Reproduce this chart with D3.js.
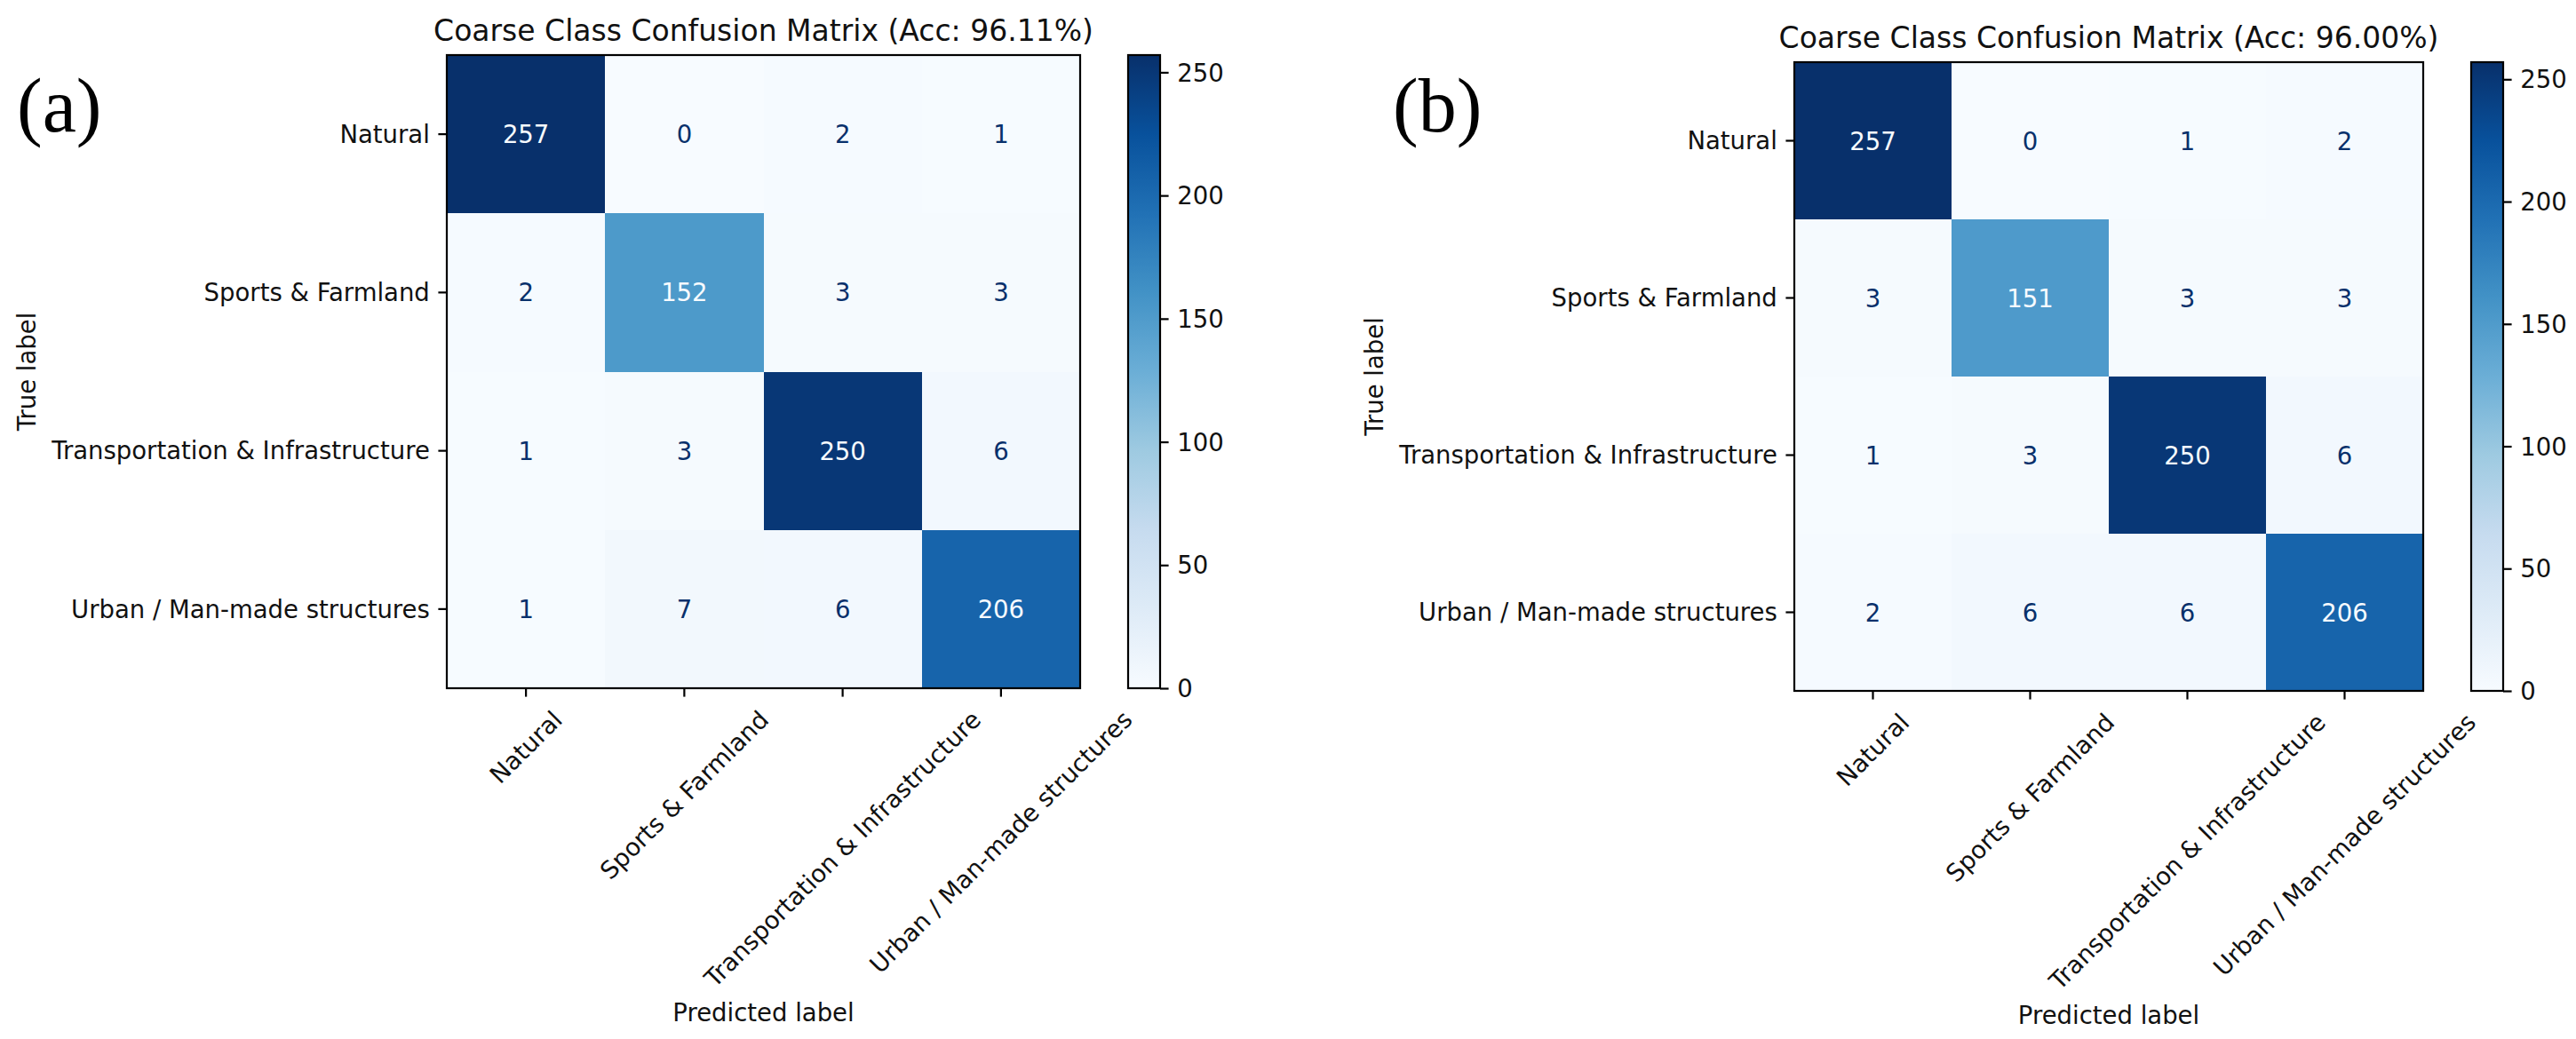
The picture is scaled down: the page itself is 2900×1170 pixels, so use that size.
<!DOCTYPE html>
<html>
<head>
<meta charset="utf-8">
<script src="https://cdn.jsdelivr.net/npm/d3@7/dist/d3.min.js"></script>
<style>
  body { margin: 0; background: #fff; }
  svg text { font-family: "DejaVu Sans", sans-serif; }
  svg text.tag { font-family: "Liberation Serif", "DejaVu Serif", serif; }
</style>
</head>
<body>
<svg id="chart" width="2900" height="1170"></svg>
<script>
// class names, shared by both panels (rows = true, columns = predicted)
var classes = ["Natural", "Sports & Farmland", "Transportation & Infrastructure", "Urban / Man-made structures"];

var matrixA = [
    [257, 0, 2, 1],
    [2, 152, 3, 3],
    [1, 3, 250, 6],
    [1, 7, 6, 206]
];
var matrixB = [
    [257, 0, 1, 2],
    [3, 151, 3, 3],
    [1, 3, 250, 6],
    [2, 6, 6, 206]
];

var titles = ["Coarse Class Confusion Matrix (Acc: 96.11%)", "Coarse Class Confusion Matrix (Acc: 96.00%)"];
var panelTags = ["(a)", "(b)"];
var colorbarTicks = [0, 50, 100, 150, 200, 250];

// matplotlib "Blues" anchor colours
var bluesStops = ["#f7fbff", "#deebf7", "#c6dbef", "#9ecae1", "#6baed6", "#4292c6", "#2171b5", "#08519c", "#08306b"];

var svg = d3.select("#chart");
svg.append("rect").attr("width", 2900).attr("height", 1170).attr("fill", "#fff");

var FS = 27.5;       // tick / label font size
var TICK = 9.6;      // tick length
var PAD = 9.6;       // tick label pad
var LW = 2.2;        // spine width

function drawPanel(idx, data, box) {
    var g = svg.append("g").attr("class", "panel-" + idx);
    var left = box.left, top = box.top, size = box.size;

    var x = d3.scaleBand().domain(classes).range([left, left + size]);
    var y = d3.scaleBand().domain(classes).range([top, top + size]);

    var flat = [];
    data.forEach(function (row, i) {
        row.forEach(function (v, j) {
            flat.push({ t: classes[i], p: classes[j], v: v });
        });
    });
    var vmin = d3.min(flat, d => d.v), vmax = d3.max(flat, d => d.v);

    var color = d3.scaleLinear()
        .domain(bluesStops.map((c, i) => vmin + (vmax - vmin) * i / (bluesStops.length - 1)))
        .range(bluesStops)
        .interpolate(d3.interpolateRgb);

    // cells
    g.append("g").selectAll("rect")
        .data(flat)
        .join("rect")
        .attr("x", d => x(d.p))
        .attr("y", d => y(d.t))
        .attr("width", x.bandwidth() + 0.5)
        .attr("height", y.bandwidth() + 0.5)
        .attr("fill", d => color(d.v))
        .attr("shape-rendering", "crispEdges");

    // values, light text on dark cells
    var thresh = (vmax + vmin) / 2;
    g.append("g").selectAll("text")
        .data(flat)
        .join("text")
        .attr("x", d => x(d.p) + x.bandwidth() / 2)
        .attr("y", d => y(d.t) + y.bandwidth() / 2)
        .attr("text-anchor", "middle")
        .attr("dominant-baseline", "central")
        .attr("font-size", FS)
        .attr("fill", d => d.v < thresh ? bluesStops[bluesStops.length - 1] : bluesStops[0])
        .text(d => d.v);

    // y axis
    var yAxis = g.append("g")
        .attr("transform", "translate(" + left + ",0)")
        .call(d3.axisLeft(y).tickSize(TICK).tickSizeOuter(0).tickPadding(PAD));
    yAxis.select(".domain").remove();
    yAxis.selectAll("line").attr("stroke", "#000").attr("stroke-width", LW);
    yAxis.selectAll("text")
        .attr("font-size", FS)
        .attr("fill", "#111")
        .attr("dy", "0.35em");

    // x axis, labels rotated 45 deg with their box centred on the tick
    var bottom = top + size;
    var xAxis = g.append("g")
        .attr("transform", "translate(0," + bottom + ")")
        .call(d3.axisBottom(x).tickSize(TICK).tickSizeOuter(0).tickPadding(PAD));
    xAxis.select(".domain").remove();
    xAxis.selectAll("line").attr("stroke", "#000").attr("stroke-width", LW);
    var lineH = 1.164 * FS;
    var maxBox = 0;
    xAxis.selectAll(".tick text")
        .attr("font-size", FS)
        .attr("fill", "#111")
        .attr("text-anchor", "middle")
        .attr("dy", null)
        .each(function () {
            var w = this.getComputedTextLength();
            var bb = (w + lineH) * Math.SQRT1_2;
            maxBox = Math.max(maxBox, bb);
            var cy = TICK + PAD + bb / 2;
            d3.select(this)
                .attr("x", 0)
                .attr("y", 0.346 * FS)
                .attr("transform", "translate(0," + cy + ") rotate(-45)");
        });

    // frame
    g.append("rect")
        .attr("x", left).attr("y", top)
        .attr("width", size).attr("height", size)
        .attr("fill", "none")
        .attr("stroke", "#000")
        .attr("stroke-width", LW);

    // title
    g.append("text")
        .attr("x", left + size / 2)
        .attr("y", top - 16)
        .attr("text-anchor", "middle")
        .attr("font-size", 33)
        .attr("fill", "#111")
        .text(titles[idx]);

    // axis labels
    var minLeft = left;
    yAxis.selectAll(".tick text").each(function () {
        var b = this.getBBox();
        minLeft = Math.min(minLeft, left - TICK - PAD - b.width);
    });
    g.append("text")
        .attr("transform", "translate(" + (minLeft - 11 - 0.236 * FS) + "," + (top + size / 2) + ") rotate(-90)")
        .attr("text-anchor", "middle")
        .attr("font-size", FS)
        .attr("fill", "#111")
        .text("True label");

    g.append("text")
        .attr("x", left + size / 2)
        .attr("y", bottom + TICK + PAD + maxBox + 11 + 0.76 * FS)
        .attr("text-anchor", "middle")
        .attr("font-size", FS)
        .attr("fill", "#111")
        .text("Predicted label");

    // colorbar
    var cbLeft = left + size + 54, cbW = 36;
    var gradId = "blues-" + idx;
    var grad = svg.append("defs").append("linearGradient")
        .attr("id", gradId)
        .attr("x1", 0).attr("y1", 1).attr("x2", 0).attr("y2", 0);
    grad.selectAll("stop")
        .data(bluesStops)
        .join("stop")
        .attr("offset", (c, i) => i / (bluesStops.length - 1))
        .attr("stop-color", c => c);

    g.append("rect")
        .attr("x", cbLeft).attr("y", top)
        .attr("width", cbW).attr("height", size)
        .attr("fill", "url(#" + gradId + ")")
        .attr("stroke", "#000")
        .attr("stroke-width", LW);

    var cb = d3.scaleLinear().domain([vmin, vmax]).range([bottom, top]);
    var cbAxis = g.append("g")
        .attr("transform", "translate(" + (cbLeft + cbW) + ",0)")
        .call(d3.axisRight(cb).tickValues(colorbarTicks).tickSize(TICK).tickSizeOuter(0).tickPadding(PAD));
    cbAxis.select(".domain").remove();
    cbAxis.selectAll("line").attr("stroke", "#000").attr("stroke-width", LW);
    cbAxis.selectAll("text")
        .attr("font-size", FS)
        .attr("fill", "#111")
        .attr("dy", "0.35em");

    // panel tag, serif like the paper's figure letters
    svg.append("text")
        .attr("class", "tag")
        .attr("x", box.tagX)
        .attr("y", 148)
        .attr("font-size", 86)
        .attr("fill", "#000")
        .text(panelTags[idx]);
}

drawPanel(0, matrixA, { left: 503, top: 62, size: 713, tagX: 19 });
drawPanel(1, matrixB, { left: 2020, top: 70, size: 708, tagX: 1568 });
</script>
</body>
</html>
